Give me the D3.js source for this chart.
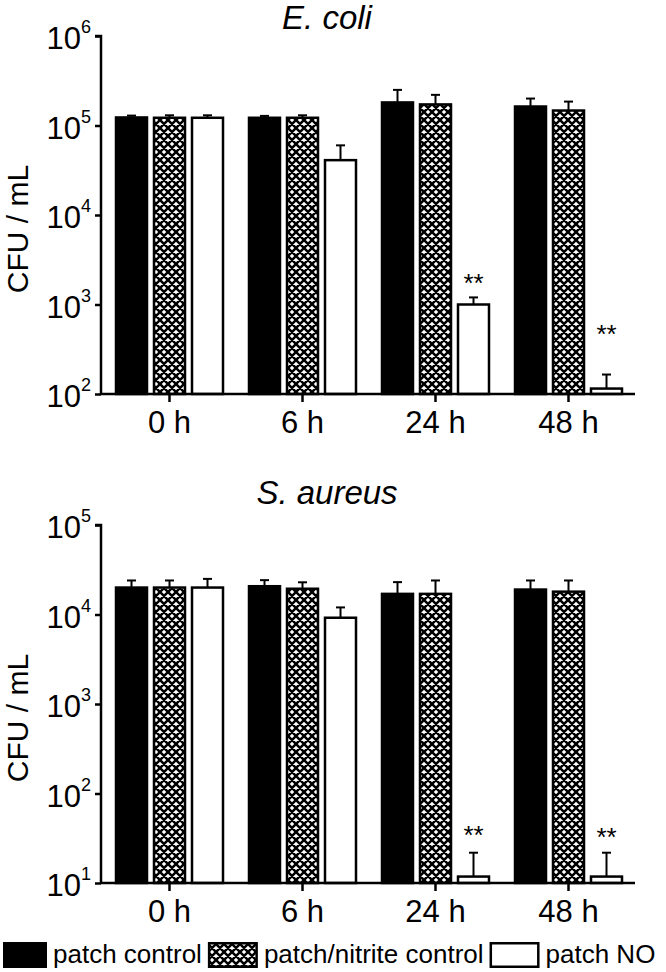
<!DOCTYPE html>
<html>
<head>
<meta charset="utf-8">
<script src="https://cdn.jsdelivr.net/npm/d3@7"></script>
<style>
  body { margin: 0; background: #fff; }
  svg { display: block; font-family: "Liberation Sans", Arial, sans-serif; }
</style>
</head>
<body>
<div id="chart"></div>
<script>
// categories
const timepoints = ["0 h", "6 h", "24 h", "48 h"];
const seriesNames = ["patch control", "patch/nitrite control", "patch NO"];

// E. coli means and upper error (CFU/mL)
const ecoliControl = [1.23e5, 1.22e5, 1.81e5, 1.63e5];
const ecoliControlErr = [6e3, 6e3, 6.9e4, 3.7e4];
const ecoliNitrite = [1.22e5, 1.22e5, 1.72e5, 1.47e5];
const ecoliNitriteErr = [8e3, 8e3, 4.8e4, 3.8e4];
const ecoliNO = [1.22e5, 4.1e4, 1.0e3, 1.15e2];
const ecoliNOErr = [8e3, 1.9e4, 2.0e2, 5.0e1];
const ecoliStars = [null, null, 2.0e3, 5.3e2];

// S. aureus
const saurControl = [2.0e4, 2.07e4, 1.7e4, 1.9e4];
const saurControlErr = [4e3, 3.5e3, 6e3, 5e3];
const saurNitrite = [2.0e4, 1.94e4, 1.7e4, 1.8e4];
const saurNitriteErr = [4e3, 3.5e3, 7e3, 6e3];
const saurNO = [2.0e4, 9.2e3, 1.18e1, 1.18e1];
const saurNOErr = [5e3, 2.8e3, 1.0e1, 1.0e1];
const saurStars = [null, null, 39, 37];

const ecoliTicks = [1e2, 1e3, 1e4, 1e5, 1e6];
const saurTicks = [1e1, 1e2, 1e3, 1e4, 1e5];

const width = 666, height = 972;
const svg = d3.select("#chart").append("svg")
  .attr("width", width).attr("height", height);

// crosshatch pattern
const defs = svg.append("defs");
const pat = defs.append("pattern")
  .attr("id", "hatch")
  .attr("patternUnits", "userSpaceOnUse")
  .attr("width", 8).attr("height", 8);
pat.append("rect").attr("width", 8).attr("height", 8).attr("fill", "#fff");
pat.append("path")
  .attr("d", "M0,0L8,8M8,0L0,8M-2,6L2,10M6,-2L10,2M-2,2L2,-2M6,10L10,6")
  .attr("stroke", "#000").attr("stroke-width", 2.5);

const fills = ["#000", "url(#hatch)", "#fff"];

function panel(opts) {
  const g = svg.append("g");
  const x = d3.scaleBand().domain(timepoints).range([103, 635]).padding(0);
  const xs = d3.scaleBand().domain(seriesNames).range([0, 109]).paddingInner(5 / 38);
  const y = d3.scaleLog().domain(opts.domain).range([opts.bottom, opts.top]);
  const offset = (x.bandwidth() - 109) / 2;

  const rows = [];
  opts.series.forEach((s, si) => {
    s.vals.forEach((v, ti) => {
      rows.push({ t: timepoints[ti], s: seriesNames[si], si: si, v: v, e: s.err[ti] });
    });
  });

  // error bars
  const eb = g.selectAll(".err").data(rows).enter().append("g");
  eb.append("line")
    .attr("x1", d => x(d.t) + offset + xs(d.s) + xs.bandwidth() / 2)
    .attr("x2", d => x(d.t) + offset + xs(d.s) + xs.bandwidth() / 2)
    .attr("y1", d => y(d.v))
    .attr("y2", d => y(d.v + d.e))
    .attr("stroke", "#000").attr("stroke-width", 2);
  eb.append("line")
    .attr("x1", d => x(d.t) + offset + xs(d.s) + xs.bandwidth() / 2 - 4.5)
    .attr("x2", d => x(d.t) + offset + xs(d.s) + xs.bandwidth() / 2 + 4.5)
    .attr("y1", d => y(d.v + d.e))
    .attr("y2", d => y(d.v + d.e))
    .attr("stroke", "#000").attr("stroke-width", 2);

  // bars
  g.selectAll(".bar").data(rows).enter().append("rect")
    .attr("x", d => x(d.t) + offset + xs(d.s) + 1)
    .attr("width", xs.bandwidth() - 2)
    .attr("y", d => y(d.v))
    .attr("height", d => opts.bottom - y(d.v))
    .attr("fill", d => fills[d.si])
    .attr("stroke", "#000").attr("stroke-width", 2.5);

  // significance stars
  opts.stars.forEach((s, ti) => {
    if (s == null) return;
    g.append("text")
      .attr("x", x(timepoints[ti]) + offset + xs(seriesNames[2]) + xs.bandwidth() / 2)
      .attr("y", y(s) + 14)
      .attr("text-anchor", "middle")
      .attr("font-size", 26)
      .text("**");
  });

  // y axis
  const yAxis = d3.axisLeft(y).tickValues(opts.ticks).tickSize(6).tickFormat("");
  const ya = g.append("g").attr("transform", "translate(101,0)").call(yAxis);
  ya.select(".domain").attr("d", `M-6,${opts.top}H0V${opts.bottom}`).attr("stroke-width", 2.5);
  ya.selectAll(".tick line").attr("stroke-width", 2.5);
  opts.ticks.forEach(t => {
    const ty = y(t);
    g.append("text").attr("x", 81).attr("y", ty + 13)
      .attr("text-anchor", "end").attr("font-size", 31).text("10");
    g.append("text").attr("x", 81).attr("y", ty - 3)
      .attr("font-size", 18).text(Math.round(Math.log10(t)));
  });

  // x axis
  const xAxis = d3.axisBottom(x).tickSize(8).tickFormat("");
  const xa = g.append("g").attr("transform", `translate(0,${opts.bottom})`).call(xAxis);
  xa.select(".domain").attr("d", "M101,0H635").attr("stroke-width", 2.5);
  xa.selectAll(".tick line").attr("stroke-width", 2.5);
  timepoints.forEach(t => {
    g.append("text").attr("x", x(t) + x.bandwidth() / 2).attr("y", opts.bottom + 39)
      .attr("text-anchor", "middle").attr("font-size", 31).text(t);
  });

  // y title
  const cy = (opts.top + opts.bottom) / 2 + 14;
  g.append("text")
    .attr("transform", `translate(28,${cy}) rotate(-90)`)
    .attr("text-anchor", "middle").attr("font-size", 30)
    .text("CFU / mL");

  // title
  g.append("text").attr("x", 327).attr("y", opts.titleY)
    .attr("text-anchor", "middle").attr("font-size", 33)
    .attr("font-style", "italic").text(opts.title);
}

panel({
  title: "E. coli", titleY: 29,
  domain: [1e2, 1e6], top: 36, bottom: 394, ticks: ecoliTicks,
  series: [
    { vals: ecoliControl, err: ecoliControlErr },
    { vals: ecoliNitrite, err: ecoliNitriteErr },
    { vals: ecoliNO, err: ecoliNOErr }
  ],
  stars: ecoliStars
});

panel({
  title: "S. aureus", titleY: 504,
  domain: [1e1, 1e5], top: 525, bottom: 883, ticks: saurTicks,
  series: [
    { vals: saurControl, err: saurControlErr },
    { vals: saurNitrite, err: saurNitriteErr },
    { vals: saurNO, err: saurNOErr }
  ],
  stars: saurStars
});

// legend
const legend = svg.append("g");
let lx = 3;
seriesNames.forEach((name, i) => {
  const bw = i === 0 ? 44 : 50;
  legend.append("rect")
    .attr("x", lx + 1.25).attr("y", 943.25)
    .attr("width", bw - 2.5).attr("height", 23.5)
    .attr("fill", fills[i]).attr("stroke", "#000").attr("stroke-width", 2.5);
  lx += bw + 6;
  const t = legend.append("text").attr("x", lx).attr("y", 963)
    .attr("font-size", 26).text(name);
  lx += t.node().getComputedTextLength() + 6;
});
</script>
</body>
</html>
